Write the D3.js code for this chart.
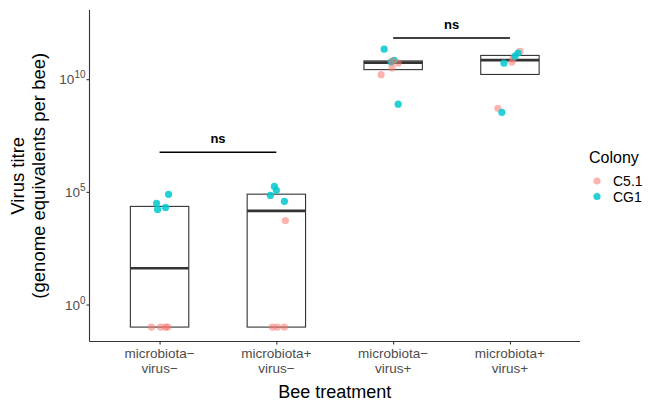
<!DOCTYPE html>
<html>
<head>
<meta charset="utf-8">
<script src="https://cdn.jsdelivr.net/npm/d3@7"></script>
<style>
  html, body { margin: 0; padding: 0; background: #fff; }
  svg { display: block; font-family: "Liberation Sans", Arial, sans-serif; }
</style>
</head>
<body>
<svg id="chart" width="655" height="410"></svg>
<script>
// ---- data ----
const categories = ["microbiota−\nvirus−", "microbiota+\nvirus−", "microbiota−\nvirus+", "microbiota+\nvirus+"];
const colonies = ["C5.1", "CG1"];
const colonyColors = ["#F8766D", "#00C8CE"];
// log10 virus titre per bee (zeros shown at 10^-1)
const groupIndex = [0,0,0,0,0,0,0,0, 1,1,1,1,1,1,1,1, 2,2,2,2,2,2,2,2, 3,3,3,3,3,3,3,3];
const colonyIndex = [0,0,0,0,1,1,1,1, 1,1,1,1,0,0,0,0, 1,1,1,1,0,0,0,0, 0,0,0,0,1,1,1,1];
const log10Titre = [
  -1, -1, -1, -1, 4.89, 4.49, 4.22, 4.31,
  5.24, 5.07, 4.84, 4.58, 3.73, -1, -1, -1,
  11.33, 10.84, 8.89, 10.76, 10.80, 10.71, 10.50, 10.20,
  11.24, 10.93, 10.76, 8.71, 11.16, 11.02, 10.71, 8.53
];
// horizontal jitter in category units
const jitter = [
  -0.069, 0.009, 0.051, 0.069, 0.077, -0.026, -0.017, 0.051,
  -0.017, 0.000, -0.051, 0.069, 0.077, -0.034, 0.009, 0.069,
  -0.077, 0.009, 0.043, -0.017, -0.009, 0.043, -0.009, -0.103,
  0.086, 0.026, 0.017, -0.103, 0.069, 0.043, -0.051, -0.069
];
const yTickExponents = [0, 5, 10];
const comparisons = [[0, 1], [2, 3]];
const comparisonLabels = ["ns", "ns"];
const comparisonLog10Y = [6.76, 11.83];
const yLog10Domain = [-1.64, 13.07];

// ---- layout ----
const svg = d3.select("#chart");
const plot = { left: 89.5, right: 580, top: 10, bottom: 341.5 };

const x = d3.scaleLinear().domain([-0.6, categories.length - 0.4]).range([plot.left, plot.right]);
const y = d3.scaleLog().domain(yLog10Domain.map(v => Math.pow(10, v))).range([plot.bottom, plot.top]);

const points = log10Titre.map((v, i) => ({
  g: groupIndex[i], c: colonyIndex[i], v: Math.pow(10, v), lv: v, j: jitter[i]
}));

// boxes (quartiles computed in log space)
const boxes = categories.map((cat, g) => {
  const vals = points.filter(p => p.g === g).map(p => p.lv).sort(d3.ascending);
  return {
    g,
    q1: Math.pow(10, d3.quantileSorted(vals, 0.25)),
    med: Math.pow(10, d3.quantileSorted(vals, 0.5)),
    q3: Math.pow(10, d3.quantileSorted(vals, 0.75))
  };
});

const boxHalf = 0.25;
const boxG = svg.append("g");
boxG.selectAll("rect").data(boxes).enter().append("rect")
  .attr("x", d => x(d.g - boxHalf))
  .attr("y", d => y(d.q3))
  .attr("width", d => x(d.g + boxHalf) - x(d.g - boxHalf))
  .attr("height", d => y(d.q1) - y(d.q3))
  .attr("fill", "none").attr("stroke", "#333").attr("stroke-width", 1.1);
boxG.selectAll("line").data(boxes).enter().append("line")
  .attr("x1", d => x(d.g - boxHalf)).attr("x2", d => x(d.g + boxHalf))
  .attr("y1", d => y(d.med)).attr("y2", d => y(d.med))
  .attr("stroke", "#333").attr("stroke-width", 2.6);

// points
svg.append("g").selectAll("circle").data(points).enter().append("circle")
  .attr("cx", d => x(d.g + d.j))
  .attr("cy", d => y(d.v))
  .attr("r", 3.6)
  .attr("fill", d => colonyColors[d.c])
  .attr("fill-opacity", d => d.c === 0 ? 0.55 : 0.85);

// axes
const yAxis = svg.append("g").attr("transform", `translate(${plot.left},0)`)
  .call(d3.axisLeft(y).tickValues(yTickExponents.map(e => Math.pow(10, e))).tickSize(3).tickFormat(""));
const xAxis = svg.append("g").attr("transform", `translate(0,${plot.bottom})`)
  .call(d3.axisBottom(x).tickValues(categories.map((c, i) => i)).tickSize(3).tickFormat(""));
[yAxis, xAxis].forEach(a => {
  a.select(".domain").attr("stroke", "#333").attr("stroke-width", 1.1);
  a.selectAll(".tick line").attr("stroke", "#333").attr("stroke-width", 1.1);
});
yAxis.select(".domain").attr("d", `M0,${plot.top}V${plot.bottom}`);
xAxis.select(".domain").attr("d", `M${plot.left},0H${plot.right}`);

// y tick labels with superscripts
yTickExponents.forEach(e => {
  const t = svg.append("text")
    .attr("x", plot.left - 4).attr("y", y(Math.pow(10, e)) + 5)
    .attr("text-anchor", "end").attr("fill", "#4D4D4D").attr("font-size", 13.5);
  t.append("tspan").text("10");
  t.append("tspan").attr("dy", -6).attr("font-size", 10).text(String(e));
});

// x tick labels
categories.forEach((c, i) => {
  const lines = c.split("\n");
  const t = svg.append("text").attr("text-anchor", "middle").attr("fill", "#4D4D4D").attr("font-size", 13.5);
  lines.forEach((l, k) => {
    t.append("tspan").attr("x", x(i)).attr("y", plot.bottom + 16.5 + k * 15).text(l);
  });
});

// axis titles
svg.append("text").attr("x", (plot.left + plot.right) / 2).attr("y", 398)
  .attr("text-anchor", "middle").attr("font-size", 18).attr("fill", "#000").text("Bee treatment");
const yt = svg.append("text").attr("transform", `translate(0,${(plot.top + plot.bottom) / 2}) rotate(-90)`)
  .attr("text-anchor", "middle").attr("font-size", 18.5).attr("fill", "#000");
yt.append("tspan").attr("x", 0).attr("y", 24).text("Virus titre");
yt.append("tspan").attr("x", 0).attr("y", 45).text("(genome equivalents per bee)");

// significance bars
comparisons.forEach((cmp, k) => {
  const yy = y(Math.pow(10, comparisonLog10Y[k]));
  svg.append("line").attr("x1", x(cmp[0])).attr("x2", x(cmp[1]))
    .attr("y1", yy).attr("y2", yy).attr("stroke", "#000").attr("stroke-width", 1.6);
  svg.append("text").attr("x", (x(cmp[0]) + x(cmp[1])) / 2).attr("y", yy - 9)
    .attr("text-anchor", "middle").attr("font-size", 13).attr("font-weight", "bold")
    .attr("fill", "#000").text(comparisonLabels[k]);
});

// legend
const lg = svg.append("g").attr("transform", "translate(589,0)");
lg.append("text").attr("x", 0).attr("y", 163).attr("font-size", 16).attr("fill", "#000").text("Colony");
colonies.forEach((c, i) => {
  lg.append("circle").attr("cx", 8).attr("cy", 181 + i * 15.5).attr("r", 3.6)
    .attr("fill", colonyColors[i]).attr("fill-opacity", i === 0 ? 0.55 : 0.85);
  lg.append("text").attr("x", 24).attr("y", 186 + i * 15.5).attr("font-size", 14).attr("fill", "#000").text(c);
});
</script>
</body>
</html>
